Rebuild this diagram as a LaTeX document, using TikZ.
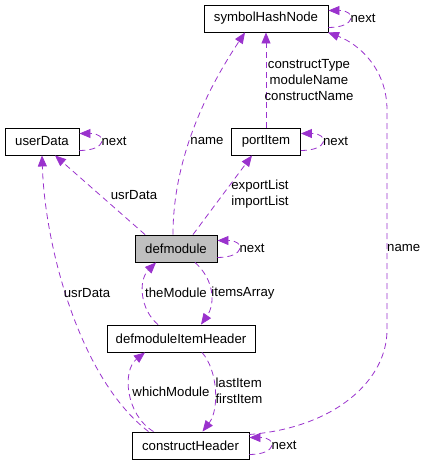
\documentclass[tikz,border=0pt]{standalone}
\usepackage{fontspec}
\setmainfont{Liberation Sans}
\usetikzlibrary{arrows.meta}
\definecolor{orchid}{HTML}{9A32CD}
\definecolor{grey75}{HTML}{BFBFBF}

\begin{document}
\begin{tikzpicture}[x=1pt, y=-1pt, every node/.style={font=\fontsize{13.2}{16}\selectfont}, >={Triangle[length=11pt, width=9pt]},
	cls/.style={draw=black, line width=0.9pt, minimum height=27pt, inner sep=0pt},
	dep/.style={->, draw=orchid, fill=none, line width=0.8pt, dash pattern=on 6pt off 4pt, arrows={-Triangle[length=11pt, width=9pt, fill=orchid, color=orchid, sep=0pt]}},
	lbl/.style={inner sep=0pt, align=center}]
	\useasboundingbox (0,0) rectangle (424,464);
	% classes
	\node[cls, minimum width=124pt] (shn) at (266,18.5) {symbolHashNode};
	\node[cls, minimum width=74pt] (ud) at (42,141.5) {userData};
	\node[cls, minimum width=69pt] (pi) at (266,141.5) {portItem};
	\node[cls, minimum width=82pt, fill=grey75] (dm) at (176,248.5) {defmodule};
	\node[cls, minimum width=148pt] (dmih) at (181,338.5) {defmoduleItemHeader};
	\node[cls, minimum width=117pt] (ch) at (190.5,445.5) {constructHeader};
	% members
	\draw[dep] ([xshift=-3pt]dm.north) .. controls +(0,-85) and +(-30,45) .. ([xshift=-21pt]shn.south);
	\node[lbl] (l-name) at (207,141) {name};
	\draw[dep] ([xshift=-31pt]dm.north) -- ([xshift=13pt]ud.south);
	\node[lbl] (l-usr) at (134,195) {usrData};
	\draw[dep] ([xshift=17pt]dm.north) -- ([xshift=-14pt]pi.south);
	\node[lbl, align=left] (l-list) at (260,194.5) {exportList\\importList};
	\draw[dep] (pi.north) -- (shn.south);
	\node[lbl] (l-cons) at (309,80) {constructType\\moduleName\\constructName};
	\draw[dep] ([xshift=19pt]dm.south) .. controls +(20,18) and +(14,-20) .. ([xshift=20pt]dmih.north);
	\node[lbl] (l-items) at (243,293) {itemsArray};
	\draw[dep] ([xshift=-23pt]dmih.north) .. controls +(-18,-15) and +(-18,18) .. ([xshift=-20pt]dm.south);
	\node[lbl] (l-mod) at (176,293) {theModule};
	\draw[dep] ([xshift=21pt]dmih.south) .. controls +(16,18) and +(17,-22) .. ([xshift=12pt]ch.north);
	\node[lbl, align=left] (l-item) at (239,391) {lastItem\\firstItem};
	\draw[dep] ([xshift=-37pt]ch.north) .. controls +(-28,-17) and +(-23,18) .. ([xshift=-36pt]dmih.south);
	\node[lbl] (l-which) at (171,392) {whichModule};
	\draw[dep] ([xshift=-42pt]ch.north) .. controls +(-68,-52) and +(3,93) .. (ud.south);
	\node[lbl] (l-usr2) at (87,293) {usrData};
	\draw[dep] ([yshift=11pt]ch.east) .. controls +(86,-7) and +(0,50) .. (387,330) -- (387,110) .. controls +(0,-40) and +(32,12) .. ([xshift=62pt]shn.south);
	\node[lbl, anchor=west] (l-name2) at (387,248) {name};
	% self links
	\foreach \n in {shn,ud,pi,dm,ch} {
		\draw[dep] ([yshift=-9pt]\n.east) .. controls +(28,0) and +(28,0) .. ([yshift=8pt]\n.east);
		\node[lbl, anchor=west] (\n-next) at ([xshift=22pt]\n.east) {next};
	}
\end{tikzpicture}
\end{document}
